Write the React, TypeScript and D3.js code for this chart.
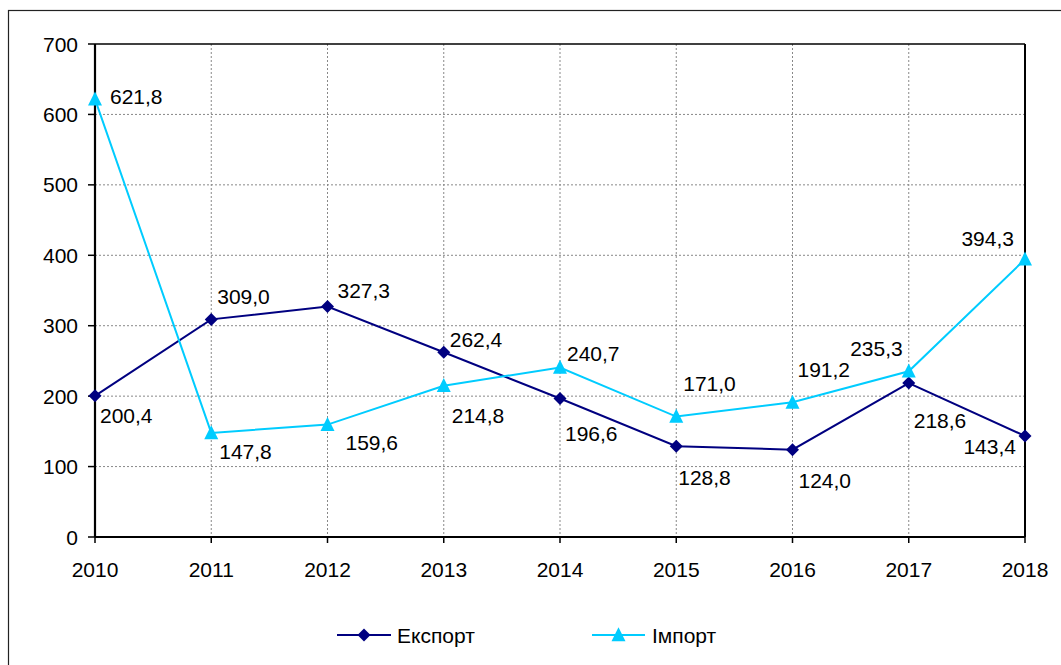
import React from "react";
import * as d3 from "d3";

const years = ["2010", "2011", "2012", "2013", "2014", "2015", "2016", "2017", "2018"];
const exportValues = [200.4, 309.0, 327.3, 262.4, 196.6, 128.8, 124.0, 218.6, 143.4];
const importValues = [621.8, 147.8, 159.6, 214.8, 240.7, 171.0, 191.2, 235.3, 394.3];
const yTicks = [0, 100, 200, 300, 400, 500, 600, 700];
const seriesNames = ["Експорт", "Імпорт"];

// label placement offsets (dx, dy, anchor) relative to each point
const exportLabelPos: [number, number, string][] = [
  [5, 27, "start"], [6, -15, "start"], [10, -8, "start"], [6, -5, "start"], [5, 42, "start"],
  [2, 39, "start"], [6, 38, "start"], [5, 45, "start"], [-9, 18, "end"],
];
const importLabelPos: [number, number, string][] = [
  [15, 5, "start"], [8, 26, "start"], [18, 25, "start"], [8, 37, "start"], [7, -6, "start"],
  [7, -26, "start"], [5, -25, "start"], [-6, -15, "end"], [-11, -13, "end"],
];

const W = 1061;
const H = 665;
const left = 95;
const right = 1025;
const top = 44;
const bottom = 537;
const NAVY = "#000080";
const CYAN = "#00CCFF";
const FONT = "'Liberation Sans', Arial, sans-serif";
const FS = 21;

const fmt = (v: number) => v.toFixed(1).replace(".", ",");

export default function App() {
  const x = d3.scalePoint<string>().domain(years).range([left, right]);
  const y = d3.scaleLinear().domain([0, 700]).range([bottom, top]);

  const line = d3
    .line<number>()
    .x((_, i) => x(years[i]) as number)
    .y((d) => y(d));

  const diamond = (cx: number, cy: number, r: number) =>
    `M${cx},${cy - r}L${cx + r},${cy}L${cx},${cy + r}L${cx - r},${cy}Z`;
  const triangle = (cx: number, cy: number, s: number) =>
    `M${cx},${cy - s * 0.55}L${cx + s / 2},${cy + s * 0.45}L${cx - s / 2},${cy + s * 0.45}Z`;

  return (
    <svg
      width={W}
      height={H}
      style={{ position: "absolute", left: 0, top: 0, background: "#fff" }}
      fontFamily={FONT}
    >
      <rect x={0} y={0} width={W} height={H} fill="#fff" />
      {/* outer chart border */}
      <rect x={8.5} y={10.5} width={1200} height={800} fill="none" stroke="#222" strokeWidth={1.2} />

      {/* gridlines */}
      {yTicks.slice(1, -1).map((t) => (
        <line key={"h" + t} x1={left} x2={right} y1={y(t)} y2={y(t)} stroke="#888" strokeWidth={1} strokeDasharray="2,2" />
      ))}
      {years.slice(1, -1).map((yr) => (
        <line key={"v" + yr} x1={x(yr)} x2={x(yr)} y1={top} y2={bottom} stroke="#888" strokeWidth={1} strokeDasharray="2,2" />
      ))}

      {/* plot border */}
      <line x1={left} x2={right} y1={top} y2={top} stroke="#000" strokeWidth={1.5} />
      <line x1={right} x2={right} y1={top} y2={bottom} stroke="#000" strokeWidth={2} />
      <line x1={left} x2={left} y1={top} y2={bottom} stroke="#000" strokeWidth={2.2} />
      <line x1={left} x2={right} y1={bottom} y2={bottom} stroke="#000" strokeWidth={2.2} />

      {/* y ticks + labels */}
      {yTicks.map((t) => (
        <g key={"yt" + t}>
          <line x1={left - 7} x2={left} y1={y(t)} y2={y(t)} stroke="#000" strokeWidth={1.5} />
          <text x={78} y={y(t) + 7.5} textAnchor="end" fontSize={FS} fill="#000">
            {t}
          </text>
        </g>
      ))}
      {/* x ticks + labels */}
      {years.map((yr) => (
        <g key={"xt" + yr}>
          <line x1={x(yr)} x2={x(yr)} y1={bottom} y2={bottom + 6} stroke="#000" strokeWidth={1.5} />
          <text x={x(yr)} y={577} textAnchor="middle" fontSize={FS} fill="#000">
            {yr}
          </text>
        </g>
      ))}

      {/* series lines */}
      <path d={line(exportValues) || ""} fill="none" stroke={NAVY} strokeWidth={2} />
      <path d={line(importValues) || ""} fill="none" stroke={CYAN} strokeWidth={2} />

      {/* markers */}
      {exportValues.map((v, i) => (
        <path key={"em" + i} d={diamond(x(years[i]) as number, y(v), 6.5)} fill={NAVY} />
      ))}
      {importValues.map((v, i) => (
        <path key={"im" + i} d={triangle(x(years[i]) as number, y(v), 14)} fill={CYAN} />
      ))}

      {/* data labels */}
      {exportValues.map((v, i) => (
        <text
          key={"el" + i}
          x={(x(years[i]) as number) + exportLabelPos[i][0]}
          y={y(v) + exportLabelPos[i][1]}
          textAnchor={exportLabelPos[i][2] as any}
          fontSize={FS}
          fill="#000"
        >
          {fmt(v)}
        </text>
      ))}
      {importValues.map((v, i) => (
        <text
          key={"il" + i}
          x={(x(years[i]) as number) + importLabelPos[i][0]}
          y={y(v) + importLabelPos[i][1]}
          textAnchor={importLabelPos[i][2] as any}
          fontSize={FS}
          fill="#000"
        >
          {fmt(v)}
        </text>
      ))}

      {/* legend */}
      <g>
        <line x1={337} x2={391} y1={635} y2={635} stroke={NAVY} strokeWidth={2} />
        <path d={diamond(364, 635, 6.5)} fill={NAVY} />
        <text x={397} y={643} fontSize={FS} fill="#000">
          {seriesNames[0]}
        </text>
        <line x1={592} x2={645} y1={635} y2={635} stroke={CYAN} strokeWidth={2} />
        <path d={triangle(618.5, 635, 14)} fill={CYAN} />
        <text x={652} y={643} fontSize={FS} fill="#000">
          {seriesNames[1]}
        </text>
      </g>
    </svg>
  );
}
